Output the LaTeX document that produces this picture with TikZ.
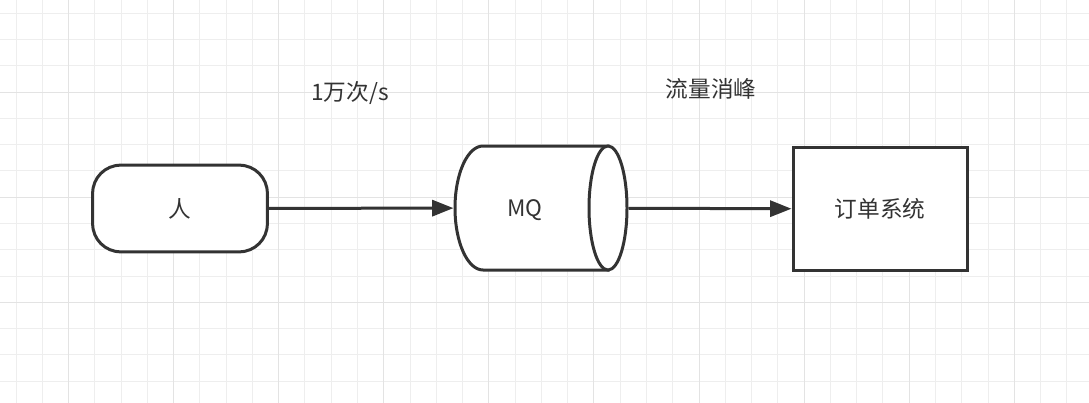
\documentclass[tikz,border=0pt]{standalone}
\usepackage{fontspec}
\setmainfont{Noto Sans CJK SC}
\usepackage{tikz}
\usetikzlibrary{arrows.meta}
\definecolor{inkgray}{HTML}{333333}
\definecolor{gridminor}{HTML}{EEEEEE}
\definecolor{gridmajor}{HTML}{E3E3E3}

\begin{document}
\begin{tikzpicture}[x=0.75pt,y=-0.75pt,->,>={Triangle[length=16pt,width=12pt]},
                    line width=2.25pt,draw=inkgray,
                    main node/.style={draw=inkgray,fill=white,text=inkgray,inner sep=0pt,
                                      font=\fontsize{17}{20}\selectfont},
                    note node/.style={text=inkgray,inner sep=0pt,font=\fontsize{17}{20}\selectfont}]

  \useasboundingbox (0,0) rectangle (1089,403);
  \fill[white] (0,0) rectangle (1089,403);

  % background grid
  \foreach \i in {0,...,41}
    \draw[-,gridminor,line width=0.75pt] (16+26.27*\i,0) -- (16+26.27*\i,403);
  \foreach \j in {0,...,14}
    \draw[-,gridminor,line width=0.75pt] (0,13.3+26.27*\j) -- (1089,13.3+26.27*\j);
  \foreach \i in {2,6,...,38}
    \draw[-,gridmajor,line width=0.75pt] (16+26.27*\i,0) -- (16+26.27*\i,403);
  \foreach \j in {3,7,11}
    \draw[-,gridmajor,line width=0.75pt] (0,13.3+26.27*\j) -- (1089,13.3+26.27*\j);

  \node[main node,rounded corners=21pt,minimum width=131pt,minimum height=65pt] (P) at (180,208.5) {人};
  \node[main node,rectangle,minimum width=130.5pt,minimum height=92pt] (S) at (880,209) {订单系统};

  % queue drawn as a lying cylinder
  \node[main node,draw=none,fill=none,minimum width=129pt,minimum height=93pt] (MQ) at (541,208) {};
  \draw[-,fill=white] (483,146) arc[start angle=90,end angle=270,x radius=21pt,y radius=46.5pt]
    -- (608,270) -- (608,146) -- cycle;
  \draw[-,fill=white] (608,208) ellipse[x radius=14.25pt,y radius=46.5pt];
  \node[note node] (mqtext) at (525,210) {MQ};

  \node[note node] (rate) at (350,93) {1万次/s};
  \node[note node] (peak) at (711,89) {流量消峰};

  \path (P) edge (MQ)
        (MQ) edge (S);
\end{tikzpicture}
\end{document}
